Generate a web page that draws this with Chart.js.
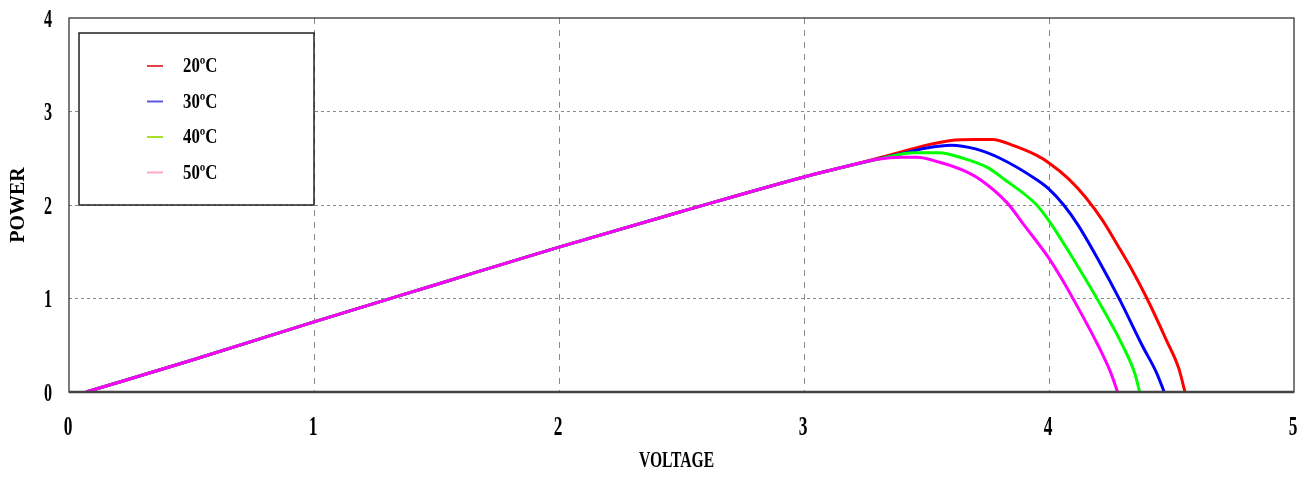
<!DOCTYPE html>
<html>
<head>
<meta charset="utf-8">
<script src="https://cdn.jsdelivr.net/npm/chart.js@4/dist/chart.umd.min.js"></script>
<style>
  html, body { margin: 0; padding: 0; background: #fff; }
  #wrap { width: 1307px; height: 480px; }
</style>
</head>
<body>
<div id="wrap"><canvas id="chart"></canvas></div>
<script>
// shared linear part of all four curves (voltage, power)
const BASE_V = [0.07, 0.5, 1, 1.5, 2, 2.5, 3, 3.2];
const BASE_P = [0, 0.34, 0.75, 1.15, 1.55, 1.93, 2.3, 2.43];

// knee and fall-off for each temperature
const T20_V = [3.4, 3.5, 3.6, 3.7, 3.77, 3.85, 3.95, 4.0, 4.08, 4.15, 4.22, 4.28, 4.34, 4.4, 4.48, 4.53, 4.555];
const T20_P = [2.57, 2.64, 2.69, 2.70, 2.70, 2.64, 2.53, 2.45, 2.28, 2.08, 1.83, 1.57, 1.3, 1.0, 0.55, 0.25, 0];

const T30_V = [3.4, 3.5, 3.6, 3.7, 3.8, 3.95, 4.0, 4.06, 4.12, 4.2, 4.29, 4.38, 4.44, 4.47];
const T30_P = [2.55, 2.61, 2.64, 2.60, 2.50, 2.27, 2.17, 2.0, 1.78, 1.42, 0.98, 0.5, 0.2, 0];

const T40_V = [3.3, 3.45, 3.55, 3.65, 3.75, 3.82, 3.95, 4.0, 4.05, 4.1, 4.2, 4.3, 4.35, 4.37];
const T40_P = [2.49, 2.56, 2.56, 2.50, 2.40, 2.27, 2.0, 1.83, 1.63, 1.42, 0.98, 0.5, 0.2, 0];

const T50_V = [3.3, 3.4, 3.46, 3.55, 3.65, 3.72, 3.83, 3.9, 4.0, 4.05, 4.1, 4.2, 4.25, 4.28];
const T50_P = [2.49, 2.51, 2.51, 2.46, 2.37, 2.27, 2.02, 1.78, 1.43, 1.22, 0.99, 0.5, 0.22, 0];

const LABELS = ['20ºC', '30ºC', '40ºC', '50ºC'];
const LINE_COLORS = ['#ff0000', '#0000ff', '#00ff00', '#ff00ff'];
const KEY_COLORS = ['#e8404a', '#5a5ae0', '#a6e02a', '#ffa6c9'];

const X_TICKS = [0, 1, 2, 3, 4, 5];
const Y_TICKS = [0, 1, 2, 3, 4];
const X_TITLE = 'VOLTAGE';
const Y_TITLE = 'POWER';

const SERIF = '"Liberation Serif", "Times New Roman", serif';

function pts(vs, ps) {
    return vs.map((v, i) => ({x: v, y: ps[i]}));
}

const CURVES = [
    pts(BASE_V.concat(T20_V), BASE_P.concat(T20_P)),
    pts(BASE_V.concat(T30_V), BASE_P.concat(T30_P)),
    pts(BASE_V.concat(T40_V), BASE_P.concat(T40_P)),
    pts(BASE_V.concat(T50_V), BASE_P.concat(T50_P)),
];

// narrow bold serif text, like the original plot's labels
function narrowText(ctx, text, x, y, size, squeeze) {
    ctx.save();
    ctx.translate(x, y);
    ctx.scale(squeeze, 1);
    ctx.font = 'bold ' + size + 'px ' + SERIF;
    ctx.textAlign = 'center';
    ctx.textBaseline = 'middle';
    ctx.fillStyle = '#000';
    ctx.fillText(text, 0, 0);
    ctx.restore();
}

const frame = {
    id: 'frame',
    afterDatasetsDraw(chart) {
        const {ctx, chartArea: a, scales: {x, y}} = chart;
        ctx.save();
        ctx.strokeStyle = '#333';
        ctx.lineWidth = 1.3;
        ctx.strokeRect(a.left, a.top, a.right - a.left, a.bottom - a.top);
        ctx.lineWidth = 2.5;
        ctx.strokeStyle = '#444';
        ctx.beginPath();
        ctx.moveTo(a.left, a.bottom);
        ctx.lineTo(a.right, a.bottom);
        ctx.stroke();

        // tick labels and x title
        X_TICKS.forEach(v => narrowText(ctx, String(v), x.getPixelForValue(v) - 1, 428, 28, 0.62));
        Y_TICKS.forEach(v => narrowText(ctx, String(v), 48, y.getPixelForValue(v) + 2, 26, 0.62));
        narrowText(ctx, X_TITLE, (a.left + a.right) / 2 - 5, 461, 24, 0.65);

        // legend box
        ctx.fillStyle = '#fff';
        ctx.fillRect(79, 33, 235, 172);
        ctx.lineWidth = 1.5;
        ctx.strokeStyle = '#222';
        ctx.strokeRect(79, 33, 235, 172);
        LABELS.forEach((l, i) => {
            const ly = 66 + i * 35.5;
            ctx.strokeStyle = KEY_COLORS[i];
            ctx.lineWidth = 2;
            ctx.beginPath();
            ctx.moveTo(147, ly);
            ctx.lineTo(163, ly);
            ctx.stroke();
            ctx.save();
            ctx.translate(183, ly + 1);
            ctx.scale(0.8, 1);
            ctx.font = 'bold 21px ' + SERIF;
            ctx.textBaseline = 'middle';
            ctx.fillStyle = '#000';
            ctx.fillText(l, 0, 0);
            ctx.restore();
        });
        ctx.restore();
    }
};

new Chart(
    document.getElementById('chart'),
    {
        type: 'scatter',
        data: {
            datasets: CURVES.map((c, i) => ({
                label: LABELS[i],
                data: c,
                showLine: true,
                borderColor: LINE_COLORS[i],
                backgroundColor: LINE_COLORS[i],
                borderWidth: 3,
                pointRadius: 0,
                cubicInterpolationMode: 'monotone',
                order: 4 - i,
            }))
        },
        options: {
            responsive: true,
            maintainAspectRatio: false,
            animation: false,
            layout: {padding: {left: 0, top: 18, right: 13, bottom: 0}},
            scales: {
                x: {
                    type: 'linear',
                    min: 0,
                    max: 5,
                    afterFit: s => { s.height = 88; },
                    afterBuildTicks: s => { s.ticks = X_TICKS.map(v => ({value: v})); },
                    ticks: {display: false},
                    grid: {
                        drawTicks: false,
                        color: c => (c.tick.value === 0 || c.tick.value === 5) ? 'rgba(0,0,0,0)' : '#8a8a8a',
                        lineWidth: 1,
                    },
                    border: {display: false, dash: [6, 6]},
                },
                y: {
                    type: 'linear',
                    min: 0,
                    max: 4,
                    afterFit: s => { s.width = 69; },
                    afterBuildTicks: s => { s.ticks = Y_TICKS.map(v => ({value: v})); },
                    ticks: {display: false},
                    grid: {
                        drawTicks: false,
                        color: c => (c.tick.value === 0 || c.tick.value === 4) ? 'rgba(0,0,0,0)' : '#8a8a8a',
                        lineWidth: 1,
                    },
                    border: {display: false, dash: [3, 3]},
                    title: {
                        display: true,
                        text: Y_TITLE,
                        color: '#000',
                        padding: {top: 7, bottom: 0},
                        font: {family: SERIF, size: 20, weight: 'bold'},
                    },
                },
            },
            plugins: {
                legend: {display: false},
                tooltip: {enabled: false},
            }
        },
        plugins: [frame]
    }
);
</script>
</body>
</html>
